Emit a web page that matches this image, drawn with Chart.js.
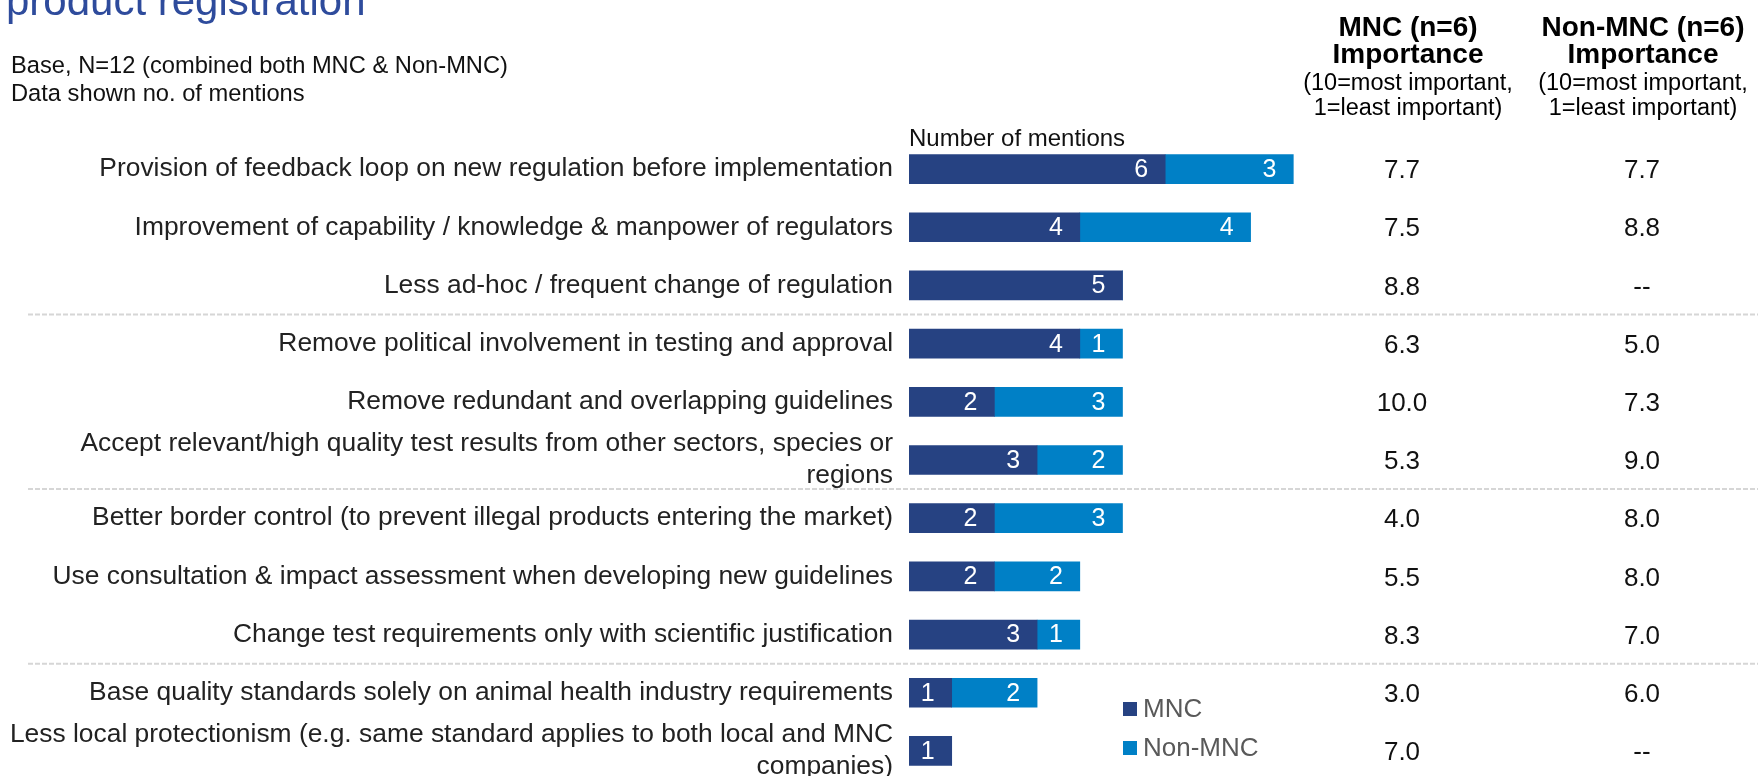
<!DOCTYPE html>
<html>
<head>
<meta charset="utf-8">
<script src="https://cdn.jsdelivr.net/npm/chart.js@4/dist/chart.umd.min.js"></script>
<style>
  html, body { margin: 0; padding: 0; background: #fff; overflow: hidden; }
  #wrap { width: 1758px; height: 776px; overflow: hidden; }
</style>
</head>
<body>
<div id="wrap"><canvas id="chartMenciones" width="1758" height="800"></canvas></div>
<script>
// datos
const categorias = [
    'Provision of feedback loop on new regulation before implementation',
    'Improvement of capability / knowledge & manpower of regulators',
    'Less ad-hoc / frequent change of regulation',
    'Remove political involvement in testing and approval',
    'Remove redundant and overlapping guidelines',
    ['Accept relevant/high quality test results from other sectors, species or', 'regions'],
    'Better border control (to prevent illegal products entering the market)',
    'Use consultation & impact assessment when developing new guidelines',
    'Change test requirements only with scientific justification',
    'Base quality standards solely on animal health industry requirements',
    ['Less local protectionism (e.g. same standard applies to both local and MNC', 'companies)']
];
const mencionesMNC = [6, 4, 5, 4, 2, 3, 2, 2, 3, 1, 1];
const mencionesNonMNC = [3, 4, 0, 1, 3, 2, 3, 2, 1, 2, 0];
const importanciaMNC = ['7.7', '7.5', '8.8', '6.3', '10.0', '5.3', '4.0', '5.5', '8.3', '3.0', '7.0'];
const importanciaNonMNC = ['7.7', '8.8', '--', '5.0', '7.3', '9.0', '8.0', '8.0', '7.0', '6.0', '--'];
const separadoresDespuesDe = [2, 5, 8];

const FUENTE = '"Liberation Sans", Arial, sans-serif';
const COLOR_MNC = '#264282';
const COLOR_NON = '#0080C6';

// textos fijos alrededor de la grafica (titulo, base, encabezados, columnas, leyenda)
const textosExtra = {
    id: 'textosExtra',
    beforeDatasetsDraw(chart) {
        const { ctx } = chart;
        const y = chart.scales.y;
        ctx.save();
        ctx.strokeStyle = '#D6D6D6';
        ctx.lineWidth = 2;
        ctx.setLineDash([5, 2]);
        separadoresDespuesDe.forEach(i => {
            const py = (y.getPixelForValue(i) + y.getPixelForValue(i + 1)) / 2;
            ctx.beginPath();
            ctx.moveTo(28, py);
            ctx.lineTo(1758, py);
            ctx.stroke();
        });
        ctx.restore();
    },
    afterDatasetsDraw(chart) {
        const { ctx } = chart;
        // etiquetas blancas dentro de las barras
        ctx.save();
        ctx.font = `25px ${FUENTE}`;
        ctx.fillStyle = '#fff';
        ctx.textAlign = 'right';
        ctx.textBaseline = 'middle';
        chart.data.datasets.forEach((ds, d) => {
            chart.getDatasetMeta(d).data.forEach((bar, i) => {
                if (ds.data[i] > 0) ctx.fillText(ds.data[i], bar.x - 17, bar.y + 1);
            });
        });
        ctx.restore();
    },
    afterDraw(chart) {
        const { ctx } = chart;
        const y = chart.scales.y;
        ctx.save();

        // titulo (cortado arriba)
        ctx.fillStyle = '#2E4B9C';
        ctx.font = `42px ${FUENTE}`;
        ctx.textAlign = 'left';
        ctx.textBaseline = 'alphabetic';
        ctx.fillText('product registration', 6, 15);

        ctx.fillStyle = '#111';
        ctx.font = `23.7px ${FUENTE}`;
        ctx.fillText('Base, N=12 (combined both MNC & Non-MNC)', 11, 73);
        ctx.fillText('Data shown no. of mentions', 11, 101);
        ctx.font = `24px ${FUENTE}`;
        ctx.fillText('Number of mentions', 909, 146);

        // encabezados de columnas
        const columnas = [
            { x: 1408, xv: 1402, titulo: 'MNC (n=6)', valores: importanciaMNC },
            { x: 1643, xv: 1642, titulo: 'Non-MNC (n=6)', valores: importanciaNonMNC }
        ];
        ctx.textAlign = 'center';
        columnas.forEach(col => {
            ctx.fillStyle = '#000';
            ctx.font = `bold 28px ${FUENTE}`;
            ctx.fillText(col.titulo, col.x, 36);
            ctx.fillText('Importance', col.x, 63);
            ctx.font = `23.5px ${FUENTE}`;
            ctx.fillText('(10=most important,', col.x, 90);
            ctx.fillText('1=least important)', col.x, 115);

            ctx.font = `26px ${FUENTE}`;
            ctx.fillStyle = '#111';
            ctx.textBaseline = 'middle';
            col.valores.forEach((v, i) => {
                ctx.fillText(v, col.xv, y.getPixelForValue(i) + 2);
            });
            ctx.textBaseline = 'alphabetic';
        });

        // leyenda
        ctx.textAlign = 'left';
        ctx.textBaseline = 'middle';
        ctx.font = `26px ${FUENTE}`;
        chart.data.datasets.forEach((ds, d) => {
            const ly = 709 + d * 39;
            ctx.fillStyle = ds.backgroundColor;
            ctx.fillRect(1123, ly - 7, 14, 14);
            ctx.fillStyle = '#595959';
            ctx.fillText(ds.label, 1143, ly + 1);
        });
        ctx.restore();
    }
};

new Chart(document.getElementById('chartMenciones'), {
    type: 'bar',
    data: {
        labels: categorias,
        datasets: [
            { label: 'MNC', data: mencionesMNC, backgroundColor: COLOR_MNC, barThickness: 29 },
            { label: 'Non-MNC', data: mencionesNonMNC, backgroundColor: COLOR_NON, barThickness: 29 }
        ]
    },
    options: {
        indexAxis: 'y',
        responsive: false,
        animation: false,
        layout: { padding: { top: 140, bottom: 20, left: 0, right: 422 } },
        scales: {
            x: {
                stacked: true,
                display: false,
                min: 0,
                max: 10
            },
            y: {
                stacked: true,
                grid: { display: false, drawTicks: false },
                border: { display: false },
                afterFit: (s) => { s.width = 909; s.paddingTop = 0; s.paddingBottom = 0; },
                ticks: {
                    autoSkip: false,
                    padding: 16,
                    color: '#222',
                    font: { family: FUENTE, size: 26.4, lineHeight: 1.22 }
                }
            }
        },
        plugins: {
            legend: { display: false },
            tooltip: { enabled: false }
        }
    },
    plugins: [textosExtra]
});
</script>
</body>
</html>
